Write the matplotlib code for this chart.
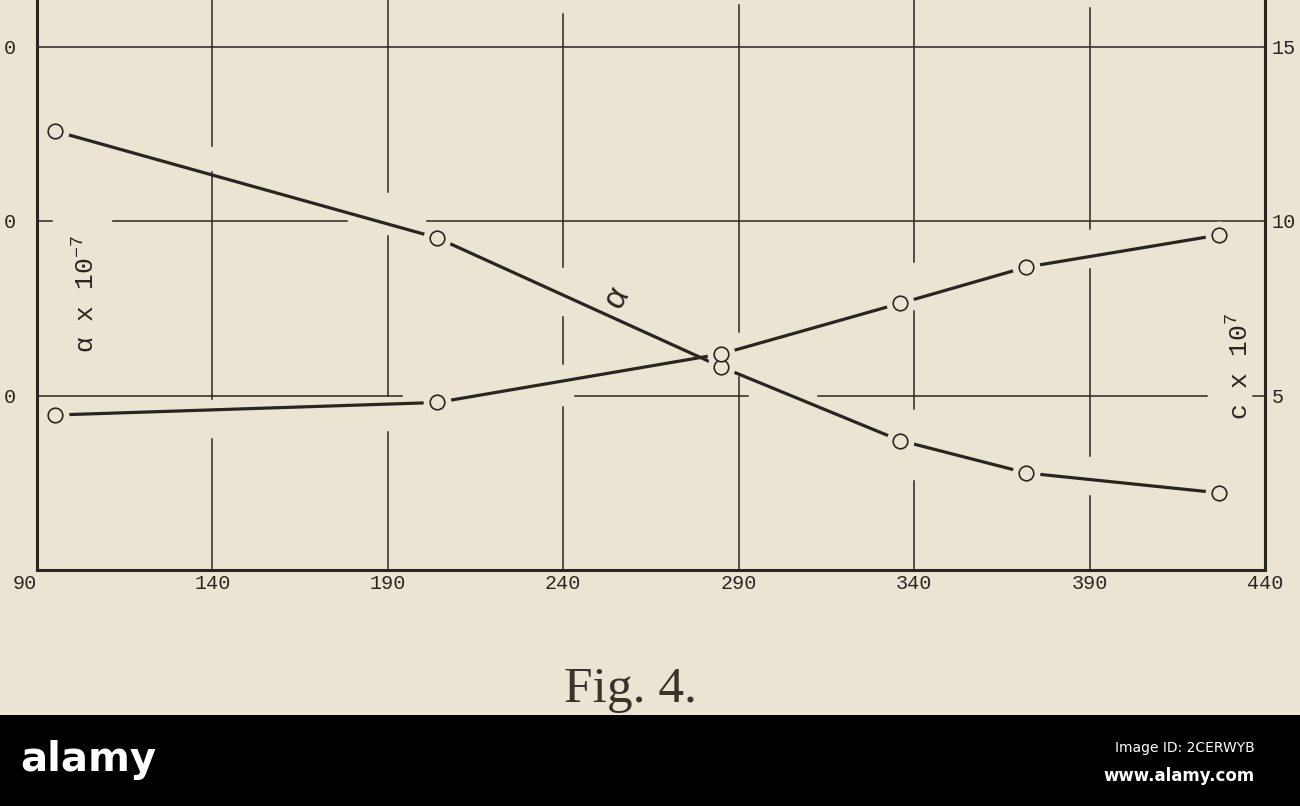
import matplotlib.pyplot as plt
from matplotlib.patches import Rectangle

# readings taken off the figure
temps = [95, 204, 285, 336, 372, 427]
alpha_vals = [12.58, 9.52, 5.82, 3.71, 2.78, 2.21]
c_vals = [4.44, 4.80, 6.19, 7.64, 8.68, 9.60]

x_ticks = [90, 140, 190, 240, 290, 340, 390, 440]
y_ticks = [5, 10, 15]
left_labels = ["0", "0", "0"]
right_labels = ["5", "10", "15"]

# the printed grid is broken where curves and labels cross it
h_grid = {
    15: [(90, 440)],
    10: [(90, 94.3), (111.7, 178.3), (201.1, 440)],
    5: [(90, 194.0), (243.3, 292.6), (312.6, 423.4), (436.5, 440)],
}
v_grid = {
    140: [(0, 3.75), (4.90, 11.40), (12.15, 16.4)],
    190: [(0, 3.95), (4.99, 9.57), (10.83, 16.4)],
    240: [(0, 4.67), (5.90, 7.25), (8.68, 15.93)],
    290: [(0, 5.53), (6.82, 16.2)],
    340: [(0, 2.55), (4.61, 7.42), (8.83, 16.4)],
    390: [(0, 2.12), (3.27, 8.62), (9.77, 16.1)],
}

BG = "#ebe4d3"
INK = "#2a2520"
MONO = ["Liberation Mono", "DejaVu Sans Mono"]

plt.rcParams["mathtext.fontset"] = "custom"
plt.rcParams["mathtext.rm"] = "Liberation Mono"
plt.rcParams["mathtext.it"] = "Liberation Mono"
plt.rcParams["mathtext.bf"] = "Liberation Mono"

fig = plt.figure(figsize=(13, 8.06), dpi=100)
fig.patch.set_facecolor(BG)
ax = fig.add_axes([37 / 1300, 236 / 806, 1228 / 1300, 570 / 806])
ax.set_facecolor(BG)
ax.set_xlim(90, 440)
ax.set_ylim(0, 570 / 34.9)

for y, segs in h_grid.items():
    for x0, x1 in segs:
        ax.plot([x0, x1], [y, y], color=INK, lw=1.1, zorder=1)
for x, segs in v_grid.items():
    for y0, y1 in segs:
        ax.plot([x, x], [y0, y1], color=INK, lw=1.1, zorder=1)

for vals in (alpha_vals, c_vals):
    ax.plot(temps, vals, color=INK, lw=2.3, zorder=2, solid_capstyle="butt")
    # background disc leaves the small gap round each circle
    ax.plot(temps, vals, ls="none", marker="o", ms=19, mfc=BG, mec=BG, zorder=3)
    ax.plot(temps, vals, ls="none", marker="o", ms=10.5, mfc=BG, mec=INK,
            mew=1.2, zorder=4)

for side in ("left", "bottom", "right"):
    ax.spines[side].set_linewidth(2.2)
    ax.spines[side].set_color(INK)
ax.spines["top"].set_visible(False)

ax.set_xticks(x_ticks)
ax.set_xticklabels([str(t) for t in x_ticks], family=MONO, fontsize=14.5, color=INK)
ax.get_xticklabels()[0].set_ha("right")
ax.set_yticks(y_ticks)
ax.set_yticklabels(left_labels, family=MONO, fontsize=14.5, color=INK)
ax.tick_params(axis="x", length=0, pad=3)
ax.tick_params(axis="y", length=0, pad=15)

ax2 = ax.twinx()
ax2.set_ylim(ax.get_ylim())
ax2.set_yticks(y_ticks)
ax2.set_yticklabels(right_labels, family=MONO, fontsize=14.5, color=INK)
ax2.tick_params(axis="y", length=0, pad=5)
for s in ax2.spines.values():
    s.set_visible(False)

ax.text(0.04, 0.484, r"α x 10$^{-7}$", transform=ax.transAxes, rotation=90,
        ha="center", va="center", family=MONO, fontsize=19, color=INK)
ax.text(0.98, 0.356, r"c x 10$^{7}$", transform=ax.transAxes, rotation=90,
        ha="center", va="center", family=MONO, fontsize=19, color=INK)
ax.text(0.472, 0.479, "α", transform=ax.transAxes, rotation=60,
        ha="center", va="center", family=MONO, fontsize=24, color=INK)

fig.text(630 / 1300, 1 - 702 / 806, "Fig. 4.", ha="center", va="baseline",
         family=["Liberation Serif", "DejaVu Serif"], fontsize=37, color="#3a332c")

# dark footer strip of the scanned page
fig.patches.append(Rectangle((0, 0), 1, 91 / 806, transform=fig.transFigure,
                             facecolor="black", edgecolor="none", zorder=0))
fig.text(20 / 1300, 1 - 760 / 806, "alamy", ha="left", va="center", color="white",
         family=["Liberation Sans Narrow", "DejaVu Sans"], fontsize=29, weight="bold")
fig.text(1255 / 1300, 1 - 748 / 806, "Image ID: 2CERWYB", ha="right", va="center",
         color="white", family=["Liberation Sans Narrow", "DejaVu Sans"], fontsize=10)
fig.text(1255 / 1300, 1 - 776 / 806, "www.alamy.com", ha="right", va="center",
         color="white", family=["Liberation Sans Narrow", "DejaVu Sans"], fontsize=12,
         weight="bold")

fig.savefig("out.png", dpi=100, facecolor=BG)
